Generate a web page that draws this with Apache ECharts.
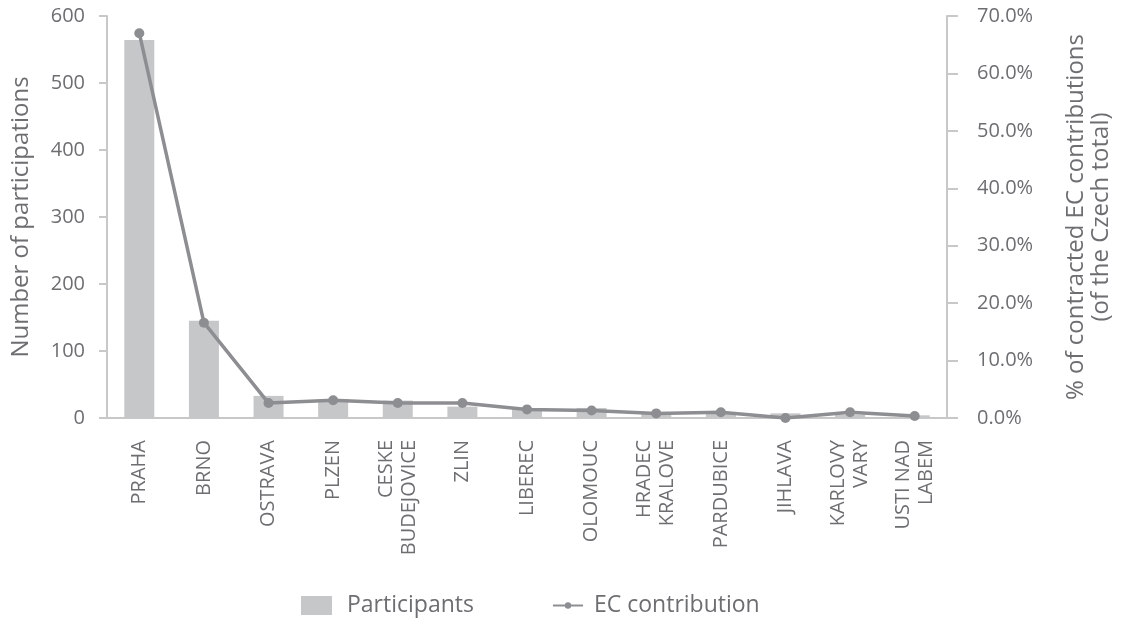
<!DOCTYPE html>
<html><head><meta charset="utf-8">
<script src="https://cdn.jsdelivr.net/npm/echarts@6/dist/echarts.min.js"></script>
<style>html,body{margin:0;padding:0;background:#fff}#c{width:1122px;height:624px}</style>
</head><body><div id="c"></div>
<script>
const categories = ['PRAHA','BRNO','OSTRAVA','PLZEN','CESKE\nBUDEJOVICE','ZLIN','LIBEREC','OLOMOUC','HRADEC\nKRALOVE','PARDUBICE','JIHLAVA','KARLOVY\nVARY','USTI NAD\nLABEM'];
const participants = [564, 145, 33, 28, 26, 17, 13, 15, 8, 8, 7, 5, 4];
const ecContribution = [67.0, 16.6, 2.6, 3.1, 2.6, 2.6, 1.5, 1.3, 0.8, 1.0, 0.0, 1.0, 0.35];
const leftTicks = {min: 0, max: 600, interval: 100};
const rightTicks = {min: 0, max: 70, interval: 10};

const txt = '#6d6e71';
const axisCol = '#c8c8c8';
const font = 'Open Sans';
const chart = echarts.init(document.getElementById('c'));
chart.setOption({
  animation: false,
  textStyle: {fontFamily: font},
  grid: {left: 107, right: 167, top: 16, bottom: 206},
  legend: [
    {data: [{name: 'Participants', icon: 'rect'}], left: 301, top: 594, padding: 0, itemWidth: 31, itemHeight: 19, itemGap: 0,
     textStyle: {color: txt, fontSize: 23, fontFamily: font, padding: [0,0,0,10]}},
    {data: ['EC contribution'], left: 552, top: 594, padding: 0, itemWidth: 30, itemHeight: 8, itemGap: 0,
     textStyle: {color: txt, fontSize: 23, fontFamily: font, padding: [0,0,0,6]}}
  ],
  xAxis: {
    type: 'category', data: categories, boundaryGap: true,
    axisLine: {lineStyle: {color: axisCol, width: 2}},
    axisTick: {length: 10, lineStyle: {color: axisCol, width: 2}},
    axisLabel: {rotate: 90, interval: 0, color: txt, fontSize: 20, margin: 22, fontFamily: font, lineHeight: 23, align: 'right'}
  },
  yAxis: [
    {type: 'value', min: leftTicks.min, max: leftTicks.max, interval: leftTicks.interval,
     name: 'Number of participations', nameLocation: 'middle', nameGap: 74, nameRotate: 90,
     nameTextStyle: {color: txt, fontSize: 24, fontFamily: font},
     axisLine: {show: true, lineStyle: {color: axisCol, width: 2}},
     axisTick: {show: true, length: 8, lineStyle: {color: axisCol, width: 2}},
     axisLabel: {color: txt, fontSize: 20, margin: 22, fontFamily: font},
     splitLine: {show: false}},
    {type: 'value', min: rightTicks.min, max: rightTicks.max, interval: rightTicks.interval, position: 'right',
     name: '% of contracted EC contributions\n(of the Czech total)', nameLocation: 'middle', nameGap: 117, nameRotate: 90,
     nameTextStyle: {color: txt, fontSize: 24, fontFamily: font, lineHeight: 25, align: 'center'},
     axisLine: {show: true, lineStyle: {color: axisCol, width: 2}},
     axisTick: {show: true, length: 11, lineStyle: {color: axisCol, width: 2}},
     axisLabel: {color: txt, fontSize: 20, margin: 30, fontFamily: font, formatter: v => v.toFixed(1) + '%'},
     splitLine: {show: false}}
  ],
  series: [
    {name: 'Participants', type: 'bar', data: participants, barWidth: 30, itemStyle: {color: '#c6c7c8'}, yAxisIndex: 0},
    {name: 'EC contribution', type: 'line', data: ecContribution, yAxisIndex: 1, symbol: 'circle', symbolSize: 10,
     lineStyle: {color: '#8d8e91', width: 3.5}, itemStyle: {color: '#8d8e91'}}
  ]
});
</script></body></html>
